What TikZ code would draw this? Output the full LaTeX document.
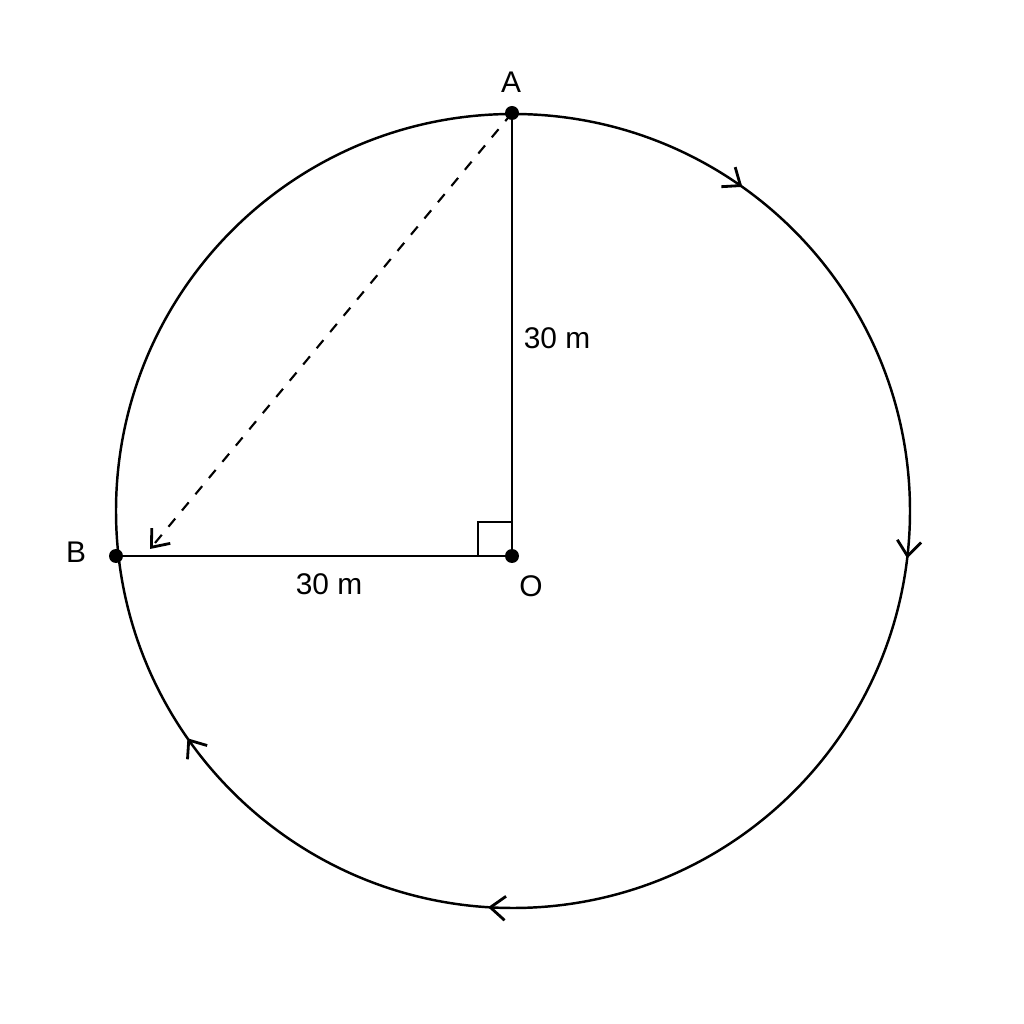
\documentclass[tikz,border=0pt]{standalone}
\usepackage{fontspec}
\setmainfont{Liberation Sans}
\usetikzlibrary{arrows.meta,decorations.markings}

\tikzset{
	pt/.style={circle,fill=black,inner sep=0pt,minimum size=1.4mm},
	lbl/.style={font=\fontsize{8.5pt}{10pt}\selectfont,inner sep=1pt},
	flowtip/.tip={Straight Barb[length=1.5mm,width=2.4mm,line width=0.8pt]},
}

\begin{document}
\begin{tikzpicture}[line width=0.7pt]

	\useasboundingbox (0,0) rectangle (10.24,10.24);

	% track and points
	\coordinate (C) at (5.13,5.13);
	\node[pt] (O) at (5.12,4.68) {};
	\node[pt] (A) at (5.12,9.11) {};
	\node[pt] (B) at (1.16,4.68) {};
	\coordinate (tip) at (1.50,4.75);

	\draw[postaction={decorate},decoration={markings,
		mark=at position 0.098 with {\arrow{flowtip}},
		mark=at position 0.269 with {\arrow{flowtip}},
		mark=at position 0.510 with {\arrow{flowtip}},
		mark=at position 0.653 with {\arrow{flowtip}}}]
		(C) ++(90:3.97) arc[start angle=90,end angle=-270,radius=3.97];

	\draw (A.center) -- (O.center) -- (B.center);
	\draw ([xshift=-3.4mm]O.center) |- ([yshift=3.4mm]O.center);
	\draw[dashed,line width=0.6pt,-flowtip] (A.center) -- (tip);

	% labels
	\node[lbl] (lA) at (5.11,9.42) {A};
	\node[lbl] (lB) at (0.76,4.72) {B};
	\node[lbl] (lO) at (5.31,4.38) {O};
	\node[lbl] (lOA) at (5.57,6.86) {30 m};
	\node[lbl] (lOB) at (3.29,4.40) {30 m};

\end{tikzpicture}
\end{document}
